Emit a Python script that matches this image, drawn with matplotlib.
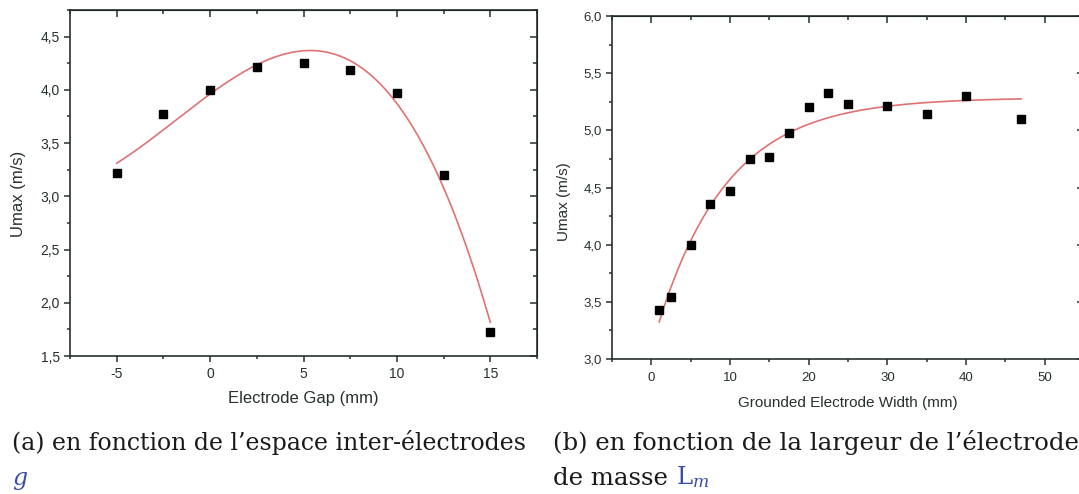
import numpy as np
import matplotlib.pyplot as plt
from matplotlib.ticker import MultipleLocator, FuncFormatter

# (a) vitesse max en fonction de l'espace inter-electrodes
gap = [-5, -2.5, 0, 2.5, 5, 7.5, 10, 12.5, 15]
umax_gap = [3.22, 3.77, 4.00, 4.21, 4.25, 4.19, 3.97, 3.20, 1.73]

# (b) vitesse max en fonction de la largeur de l'electrode de masse
width = [1, 2.5, 5, 7.5, 10, 12.5, 15, 17.5, 20, 22.5, 25, 30, 35, 40, 47]
umax_width = [3.43, 3.54, 4.00, 4.36, 4.47, 4.75, 4.77, 4.98, 5.20, 5.33,
              5.23, 5.21, 5.14, 5.30, 5.10]

plt.rcParams['font.family'] = ['Liberation Sans', 'DejaVu Sans']
plt.rcParams['axes.unicode_minus'] = False
plt.rcParams['mathtext.fontset'] = 'dejavuserif'

W, H = 1079, 494
fig = plt.figure(figsize=(W/100, H/100), dpi=100)

ax1 = fig.add_axes([70/W, 1-356/H, 467/W, 346/H])
ax2 = fig.add_axes([612/W, 1-359/H, 472/W, 343/H])

dark = '#27302f'
red = '#e07272'
virgule = FuncFormatter(lambda v, p: ('%.1f' % v).replace('.', ','))

# ajustement polynomial (ordre 3)
x1 = np.array(gap)
y1 = np.array(umax_gap)
coef = np.polyfit(x1, y1, 3)
xf1 = np.linspace(x1.min(), x1.max(), 300)
ax1.plot(xf1, np.polyval(coef, xf1), color=red, lw=1.2, zorder=2)
ax1.plot(x1, y1, 's', color='black', ms=5.3, zorder=3)

# ajustement exponentiel y = y0 + A*exp(-x/t)
x2 = np.array(width)
y2 = np.array(umax_width)
best = None
for t in np.linspace(1, 40, 4000):
    M = np.column_stack([np.ones_like(x2), np.exp(-x2/t)])
    sol, res, rk, sv = np.linalg.lstsq(M, y2, rcond=None)
    err = np.sum((M @ sol - y2)**2)
    if best is None or err < best[0]:
        best = (err, t, sol)
_, tau, (y0, A) = best
xf2 = np.linspace(x2.min(), x2.max(), 300)
ax2.plot(xf2, y0 + A*np.exp(-xf2/tau), color=red, lw=1.2, zorder=2)
ax2.plot(x2, y2, 's', color='black', ms=5.3, zorder=3)

ax1.set_xlim(-7.5, 17.5)
ax1.set_ylim(1.5, 4.75)
ax1.xaxis.set_major_locator(MultipleLocator(5))
ax1.xaxis.set_minor_locator(MultipleLocator(2.5))
ax1.yaxis.set_major_locator(MultipleLocator(0.5))
ax1.yaxis.set_minor_locator(MultipleLocator(0.25))

ax2.set_xlim(-5, 55)
ax2.set_ylim(3.0, 6.0)
ax2.xaxis.set_major_locator(MultipleLocator(10))
ax2.xaxis.set_minor_locator(MultipleLocator(5))
ax2.yaxis.set_major_locator(MultipleLocator(0.5))
ax2.yaxis.set_minor_locator(MultipleLocator(0.25))

for ax, xl, xmaj, xmin, fs, fl, lp, tp in [
        (ax1, 'Electrode Gap (mm)', 5, 2.5, 10, 12, 7, 3.5),
        (ax2, 'Grounded Electrode Width (mm)', 10, 5, 9.5, 11, 9, 5)]:
    ax.yaxis.set_major_formatter(virgule)
    for s in ax.spines.values():
        s.set_color(dark)
        s.set_linewidth(1.2)
    ax.tick_params(which='both', direction='out', colors=dark,
                   labelsize=fs, width=1.1)
    ax.tick_params(which='major', length=4.3)
    ax.tick_params(which='minor', length=2.5)
    ax.tick_params(axis='x', which='major', pad=tp)
    ax.tick_params(axis='y', which='major', pad=3)
    ax.set_xlabel(xl, fontsize=fl, color=dark, labelpad=lp)
    ax.set_ylabel('Umax (m/s)', fontsize=fl, color=dark)
    # graduations interieures en haut et a droite
    top = ax.secondary_xaxis('top')
    top.xaxis.set_major_locator(MultipleLocator(xmaj))
    top.xaxis.set_minor_locator(MultipleLocator(xmin))
    top.tick_params(which='both', direction='in', colors=dark, labeltop=False, width=1.1)
    top.tick_params(which='major', length=5)
    top.tick_params(which='minor', length=3)
    right = ax.secondary_yaxis('right')
    right.yaxis.set_major_locator(MultipleLocator(0.5))
    right.yaxis.set_minor_locator(MultipleLocator(0.25))
    right.tick_params(which='both', direction='in', colors=dark, labelright=False, width=1.1)
    right.tick_params(which='major', length=5)
    right.tick_params(which='minor', length=3)

ax1.yaxis.set_label_coords(-0.095, 0.47)
ax2.yaxis.set_label_coords(-0.086, 0.46)

# legendes des sous-figures
cap = dict(family=['DejaVu Serif'], color='#1a1a1a')
blue = '#3b4ea6'
fig.text(12/W, 1-450/H, '(a) en fonction de l\u2019espace inter-électrodes',
         fontsize=17, **cap)
fig.text(12/W, 1-485/H, 'g', family=['DejaVu Serif'], fontsize=17,
         style='italic', color=blue)
fig.text(553/W, 1-450/H, '(b) en fonction de la largeur de l\u2019électrode',
         fontsize=17.6, **cap)
t_m = fig.text(553/W, 1-485/H, 'de masse ', fontsize=17.6, **cap)
ax2.annotate(r'$\mathrm{L}_m$', xy=(1, 0), xycoords=t_m, va='bottom',
             fontsize=17.6, color=blue, annotation_clip=False)

fig.savefig('out.png', dpi=100)
